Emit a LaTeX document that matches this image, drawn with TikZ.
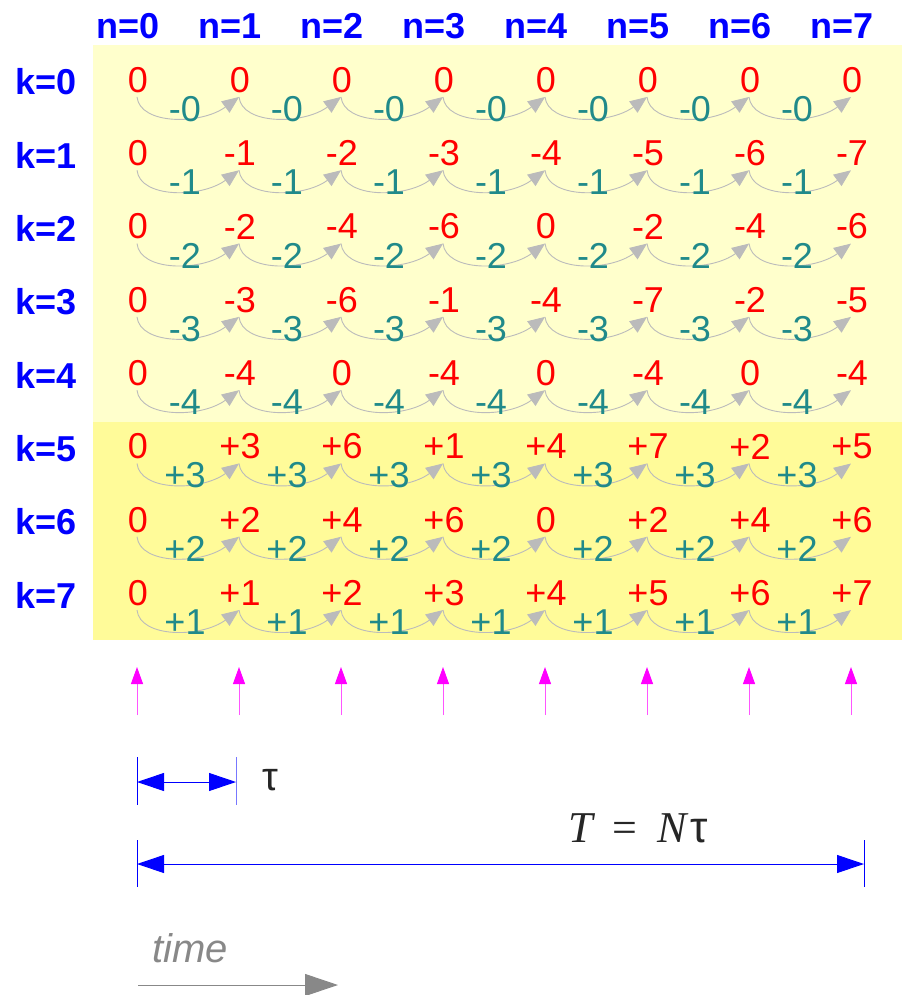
\documentclass[tikz,border=0pt]{standalone}
\usepackage{fontspec}
\setmainfont{Liberation Sans}
\newfontfamily\serifit{Liberation Serif}
\usetikzlibrary{arrows.meta,calc}
\definecolor{lightyel}{HTML}{FFFFCC}
\definecolor{darkyel}{HTML}{FFFB99}
\definecolor{tealc}{RGB}{32,138,138}
\definecolor{arcgray}{HTML}{BBBBBB}
\definecolor{tickblue}{HTML}{7777FF}
\definecolor{maglight}{HTML}{FF55FF}
\definecolor{magc}{RGB}{255,0,255}
\definecolor{blc}{RGB}{0,0,255}
\definecolor{redc}{RGB}{255,0,0}
\definecolor{timegray}{HTML}{888888}
\begin{document}
\begin{tikzpicture}[x=1pt,y=-1pt,
  hdr/.style={text=blc,font=\fontsize{36}{40}\selectfont\bfseries,inner sep=0pt},
  val/.style={text=redc,font=\fontsize{36}{40}\selectfont,inner sep=0pt},
  stepl/.style={text=tealc,font=\fontsize{36}{40}\selectfont,inner sep=0pt},
  arcl/.style={draw=arcgray,line width=0.9pt,-{Triangle[length=17pt,width=14pt,fill=arcgray]}},
  magarrow/.style={draw=maglight,line width=1pt,-{Triangle[length=17pt,width=12pt,fill=magc,color=magc]}},
  bluedim/.style={draw=blc,line width=1pt,{Triangle[length=27pt,width=18pt]}-{Triangle[length=27pt,width=18pt]}},
  bluetick/.style={draw=blc,line width=1pt},
]
\useasboundingbox (0,0) rectangle (902,995);
% backgrounds
\fill[lightyel] (93,45) rectangle (902,422);
\fill[darkyel] (93,422) rectangle (902,640);
% headers
\foreach \n in {0,...,7}{
  \node[hdr] (n\n) at (128+102*\n,26) {n=\n};
}
% rows
\foreach \k/\vals/\s in {0/{0,0,0,0,0,0,0,0}/-0,
                         1/{0,-1,-2,-3,-4,-5,-6,-7}/-1,
                         2/{0,-2,-4,-6,0,-2,-4,-6}/-2,
                         3/{0,-3,-6,-1,-4,-7,-2,-5}/-3,
                         4/{0,-4,0,-4,0,-4,0,-4}/-4,
                         5/{0,+3,+6,+1,+4,+7,+2,+5}/+3,
                         6/{0,+2,+4,+6,0,+2,+4,+6}/+2,
                         7/{0,+1,+2,+3,+4,+5,+6,+7}/+1}{
  \pgfmathsetmacro\yy{80+73.3*\k}
  \node[hdr] (k\k) at (46,\yy+2) {k=\k};
  \foreach \v [count=\n from 0] in \vals {
    \node[val] (r-\k-\n) at (138+102*\n,\yy) {\v};
    \coordinate (a-\k-\n) at (137+102*\n,\yy+17);
  }
  \foreach \n in {0,...,6}{
    \pgfmathtruncatemacro\m{\n+1}
    \draw[arcl] (a-\k-\n) .. controls +(3,28) and +(-38,28) .. (a-\k-\m);
    \node[stepl] (s-\k-\n) at (185+102*\n,\yy+29) {\s};
  }
}
% magenta sampling arrows
\foreach \n in {0,...,7}{
  \coordinate (mb\n) at (137+102*\n,715);
  \coordinate (mt\n) at (137+102*\n,667);
  \draw[magarrow] (mb\n) -- (mt\n);
}
% tau dimension
\coordinate (t0a) at (137,757); \coordinate (t0b) at (137,805);
\coordinate (t1a) at (236,757); \coordinate (t1b) at (236,805);
\coordinate (tl) at (137,782); \coordinate (tr) at (236,782);
\draw[bluetick] (t0a) -- (t0b);
\draw[draw=tickblue,line width=1pt] (t1a) -- (t1b);
\draw[bluedim] (tl) -- (tr);
\node[font=\fontsize{40}{44}\selectfont,text=black!85,inner sep=0pt] (tau) at (270,780) {τ};
% T = N tau
\node[font=\fontsize{44}{48}\selectfont,text=black!85,inner sep=0pt] (Teq) at (638,828)
  {{\serifit\itshape T}\hspace{20pt}{\serifit =}\hspace{20pt}{\serifit\itshape N}\hspace{3pt}τ};
\coordinate (T0a) at (137,840); \coordinate (T0b) at (137,887);
\coordinate (T1a) at (864,840); \coordinate (T1b) at (864,887);
\coordinate (Tl) at (137,864); \coordinate (Tr) at (864,864);
\draw[bluetick] (T0a) -- (T0b);
\draw[bluetick] (T1a) -- (T1b);
\draw[bluedim] (Tl) -- (Tr);
% time
\node[font=\fontsize{40}{44}\selectfont\itshape,text=timegray,inner sep=0pt] (time) at (190,948) {time};
\coordinate (tmA) at (138,985); \coordinate (tmB) at (338,985);
\draw[draw=timegray,line width=1pt,-{Triangle[length=33pt,width=22pt]}] (tmA) -- (tmB);
\end{tikzpicture}
\end{document}
